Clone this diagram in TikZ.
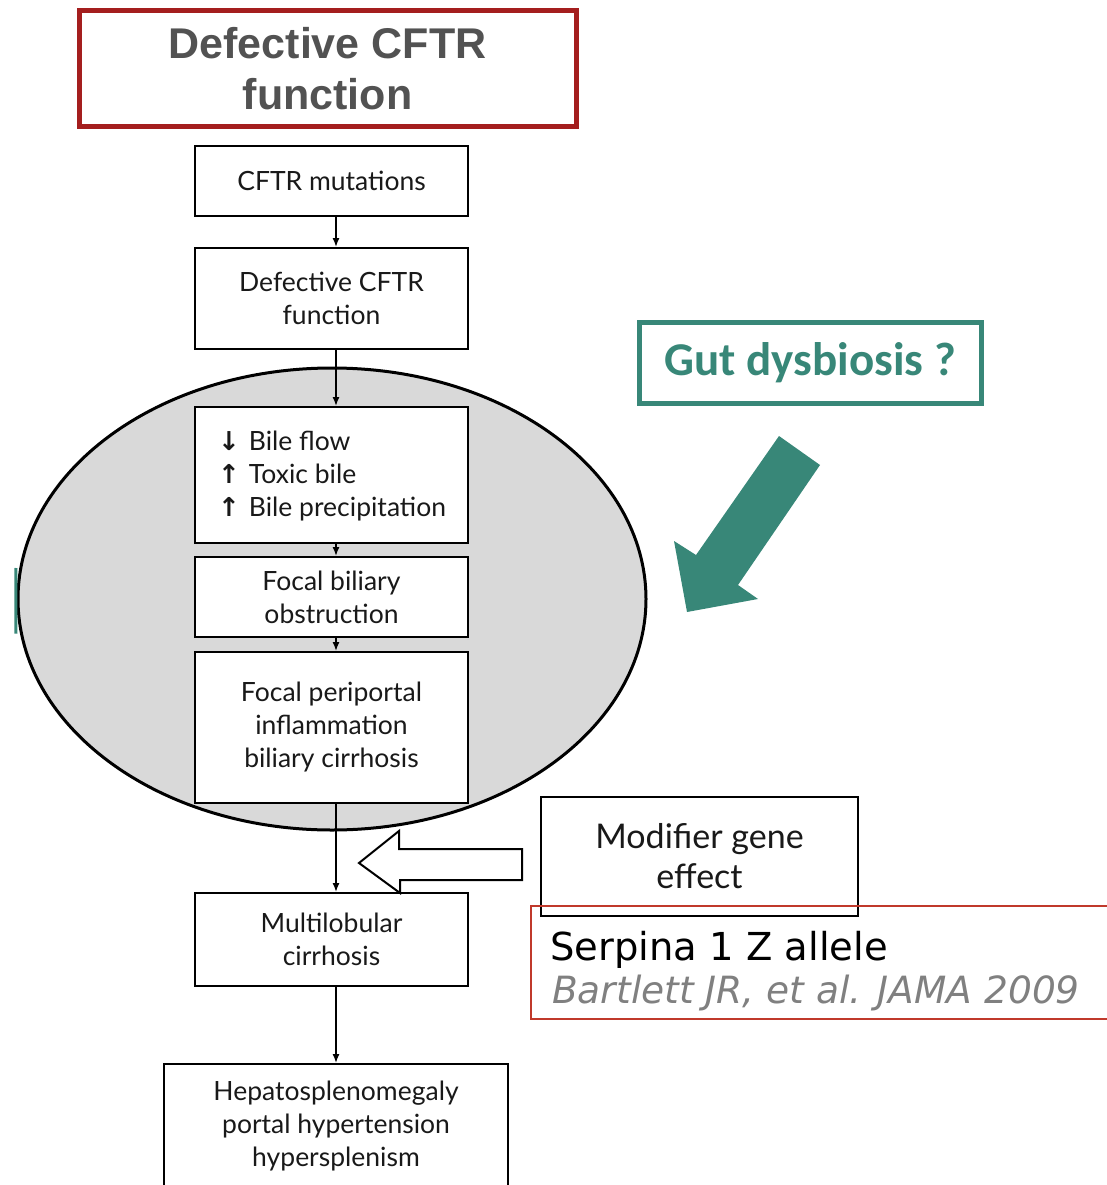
\documentclass[tikz,border=0pt]{standalone}
\usepackage{fontspec}
\setmainfont{Lato}
\newfontfamily\heavy{Liberation Sans}
\newfontfamily\calib{Carlito}
\newfontfamily\symb{DejaVu Sans}
\newfontfamily\refont{DejaVu Sans}
\usetikzlibrary{shapes.geometric,arrows.meta}
\definecolor{darkred}{HTML}{A41E1E}
\definecolor{teal}{HTML}{388778}
\definecolor{thinred}{HTML}{C0392B}
\definecolor{ellgray}{HTML}{D9D9D9}
\newcommand{\updn}[1]{{\symb\bfseries\fontsize{26}{33}\selectfont #1}}
\tikzset{
  flowbox/.style={draw=black, line width=2pt, fill=white, inner sep=0pt, align=center,
    font=\fontsize{26.5}{33}\selectfont, text=black!90},
  arr/.style={line width=1.4pt, -{Latex[length=9pt,width=7pt]}},
}
\begin{document}
\begin{tikzpicture}[x=1pt,y=-1pt]
\useasboundingbox (0,0) rectangle (1106,1185);
% ellipse
\node[ellipse, draw=black, line width=3pt, fill=ellgray, minimum width=628pt, minimum height=462pt, inner sep=0pt] (ell) at (332,599) {};
\draw[teal, line width=3pt] (16,568) arc[start angle=171, end angle=189, x radius=20pt, y radius=210pt];
% top title box
\node[draw=darkred, line width=5pt, minimum width=497pt, minimum height=116pt, inner sep=0pt, align=center,
  font=\heavy\bfseries\fontsize{43}{51}\selectfont, text=black!68] (title) at (327.5,69) {Defective CFTR\\function};
% flow boxes
\node[flowbox, minimum width=273pt, minimum height=70pt] (mut) at (331.5,181) {CFTR mutations};
\node[flowbox, minimum width=273pt, minimum height=101pt] (def) at (331.5,298.5) {Defective CFTR\\function};
\node[flowbox, minimum width=273pt, minimum height=136pt] (bile) at (331.5,475) {};
\node[anchor=west, inner sep=0pt, align=left, font=\fontsize{26.5}{33}\selectfont, text=black!90] (biletxt) at (218,476)
  {\updn{↓}\hspace{9pt}Bile flow\\\updn{↑}\hspace{9pt}Toxic bile\\\updn{↑}\hspace{9pt}Bile precipitation};
\node[flowbox, minimum width=273pt, minimum height=80pt] (obs) at (331.5,597) {Focal biliary\\obstruction};
\node[flowbox, minimum width=273pt, minimum height=151pt] (peri) at (331.5,727.5) {Focal periportal\\inflammation\\biliary cirrhosis};
\node[flowbox, minimum width=273pt, minimum height=93pt] (multi) at (331.5,939.5) {Multilobular\\cirrhosis};
\node[flowbox, minimum width=344pt, minimum height=140pt, anchor=north] (hep) at (336,1063) {};
\node[inner sep=0pt, align=center, font=\fontsize{26.5}{33}\selectfont, text=black!90] (heptxt) at (336,1126) {Hepatosplenomegaly\\portal hypertension\\hypersplenism};
% modifier gene box
\node[flowbox, minimum width=317pt, minimum height=119pt, font=\fontsize{34}{40}\selectfont] (mod) at (699.5,856.5) {Modifier gene\\effect};
% serpina box
\node[draw=thinred, line width=1.5pt, minimum width=582pt, minimum height=113pt, inner sep=0pt, anchor=north west] (serp) at (530,905) {};
\node[anchor=base west, inner sep=0pt, font=\refont\fontsize{38.5}{48}\selectfont, text=black] (serp1) at (550,960) {Serpina 1 Z allele};
\node[anchor=base west, inner sep=0pt, font=\refont\itshape\fontsize{37.5}{40}\selectfont, text=black!50] (serp2) at (552,1003) {Bartlett JR, et al. JAMA 2009};
% gut dysbiosis
\node[draw=teal, line width=5pt, minimum width=342pt, minimum height=81pt, inner sep=0pt,
  font=\calib\bfseries\fontsize{47}{52}\selectfont, text=teal] (gut) at (810,362.5) {Gut dysbiosis ?};
\fill[teal] (779,436) -- (820,465) -- (738,585) -- (758,599) -- (687,612) -- (674,541) -- (696,555) -- cycle;
% connectors
\draw[arr] ([xshift=4.5pt]mut.south) -- ([xshift=4.5pt]def.north);
\draw[arr] ([xshift=4.5pt]def.south) -- ([xshift=4.5pt]bile.north);
\draw[arr] ([xshift=4.5pt]bile.south) -- ([xshift=4.5pt]obs.north);
\draw[arr] ([xshift=4.5pt]obs.south) -- ([xshift=4.5pt]peri.north);
\draw[arr] ([xshift=4.5pt]peri.south) -- ([xshift=4.5pt]multi.north);
\draw[arr] ([xshift=4.5pt]multi.south) -- (hep.north);
% hollow arrow from modifier box
\draw[line width=2pt, fill=white, line join=miter] (522,849) -- (399,849) -- (399,831) -- (359,863) -- (400,893) -- (400,880) -- (522,880) -- cycle;
\end{tikzpicture}
\end{document}
